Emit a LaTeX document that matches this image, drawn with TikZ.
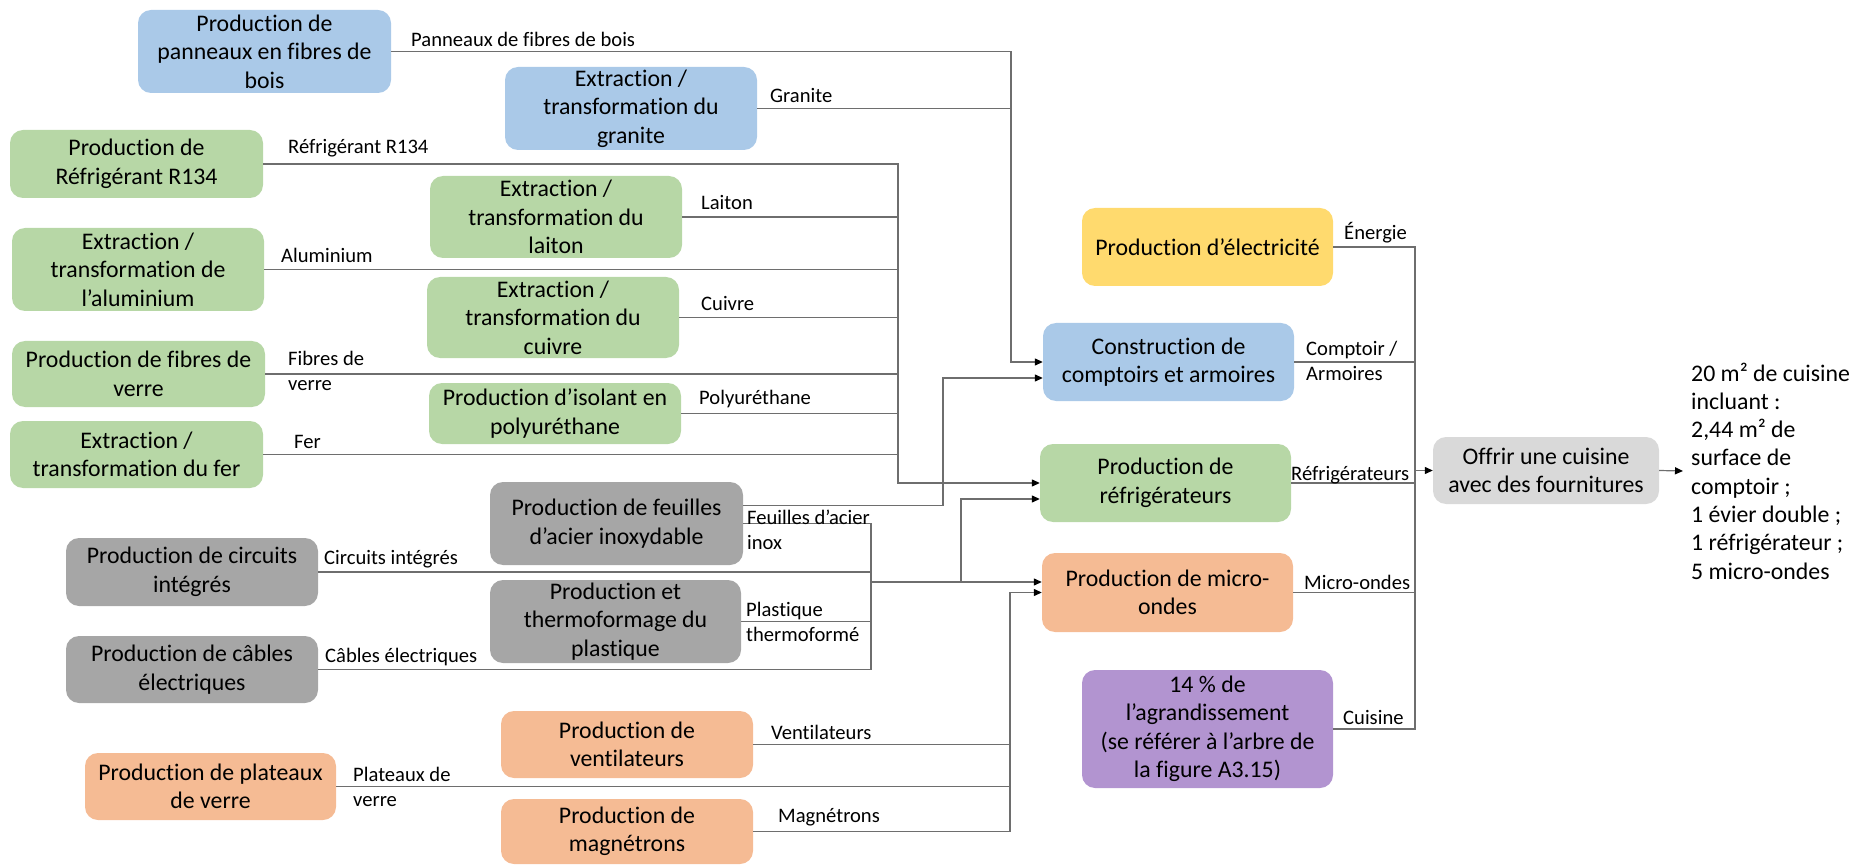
\documentclass[tikz,border=0pt]{standalone}
\usepackage{fontspec}
\setmainfont{Carlito}[Ligatures={NoCommon}]
\usetikzlibrary{arrows.meta}

\definecolor{cblue}{RGB}{170,201,232}
\definecolor{cgreen}{RGB}{183,215,166}
\definecolor{cgrey}{RGB}{166,166,166}
\definecolor{corange}{RGB}{245,187,148}
\definecolor{cyellow}{RGB}{255,218,110}
\definecolor{cpurple}{RGB}{178,148,208}
\definecolor{clight}{RGB}{217,217,217}
\definecolor{wiregray}{RGB}{110,110,110}

% Process box given by its edges: name, x-left, x-right, y-top, y-bottom, fill, text
\newcommand{\flowbox}[7]{%
  \node[procbox, fill=#6, minimum width={(#3-#2)*1pt}, minimum height={(#5-#4)*1pt}]
    (#1) at ({(#2+#3)/2},{(#4+#5)/2}) {#7};}

\begin{document}
\begin{tikzpicture}[x=1pt, y=-1pt,
  procbox/.style={rounded corners=13pt, draw=none, align=center, inner sep=0pt,
    font=\fontsize{23.8}{28.5}\selectfont},
  lbl/.style={anchor=west, inner sep=0pt, align=left,
    font=\fontsize{20.6}{25}\selectfont},
  wire/.style={draw=wiregray, line width=1.2pt},
  arr/.style={wire, -{Triangle[length=8pt,width=7pt]}, arrows={[color=black]}}
]
\useasboundingbox (0,0) rectangle (1857,866);

% ---- supply boxes ----
\flowbox{pan}{138}{391}{10}{93}{cblue}{Production de\\panneaux en fibres de\\bois}
\flowbox{gra}{505}{757}{67}{150}{cblue}{Extraction /\\transformation du\\granite}
\flowbox{ref}{10}{263}{130}{198}{cgreen}{Production de\\Réfrigérant R134}
\flowbox{lai}{430}{682}{176}{258}{cgreen}{Extraction /\\transformation du\\laiton}
\flowbox{alu}{12}{264}{228}{311}{cgreen}{Extraction /\\transformation de\\l’aluminium}
\flowbox{cui}{427}{679}{277}{358}{cgreen}{Extraction /\\transformation du\\cuivre}
\flowbox{fib}{12}{265}{341}{407}{cgreen}{Production de fibres de\\verre}
\flowbox{pol}{429}{681}{383}{444}{cgreen}{Production d’isolant en\\polyuréthane}
\flowbox{fer}{10}{263}{421}{488}{cgreen}{Extraction /\\transformation du fer}
\flowbox{aci}{490}{743}{482}{565}{cgrey}{Production de feuilles\\d’acier inoxydable}
\flowbox{cir}{66}{318}{538}{606}{cgrey}{Production de circuits\\intégrés}
\flowbox{pla}{490}{741}{580}{663}{cgrey}{Production et\\thermoformage du\\plastique}
\flowbox{cab}{66}{318}{636}{703}{cgrey}{Production de câbles\\électriques}
\flowbox{ven}{501}{753}{711}{778}{corange}{Production de\\ventilateurs}
\flowbox{plt}{85}{336}{753}{820}{corange}{Production de plateaux\\de verre}
\flowbox{mag}{501}{753}{799}{864}{corange}{Production de\\magnétrons}

% ---- assembly boxes ----
\flowbox{ele}{1082}{1333}{208}{286}{cyellow}{Production d’électricité}
\flowbox{con}{1043}{1294}{323}{401}{cblue}{Construction de\\comptoirs et armoires}
\flowbox{frg}{1040}{1291}{444}{522}{cgreen}{Production de\\réfrigérateurs}
\flowbox{mic}{1042}{1293}{553}{632}{corange}{Production de micro-\\ondes}
\flowbox{agr}{1082}{1333}{670}{788}{cpurple}{14 \% de\\l’agrandissement\\(se référer à l’arbre de\\la figure A3.15)}
\flowbox{off}{1433}{1659}{437}{504}{clight}{Offrir une cuisine\\avec des fournitures}

% ---- result text ----
\node[anchor=west, inner sep=0pt, align=left, font=\fontsize{23.8}{28.3}\selectfont]
  (res) at (1691,471) {20 m² de cuisine\\incluant :\\2,44 m² de\\surface de\\comptoir ;\\1 évier double ;\\1 réfrigérateur ;\\5 micro-ondes};

% ---- bus positions ----
\coordinate (gb) at (898,0);   % green materials
\coordinate (bb) at (1011,0);  % wood and granite
\coordinate (sb) at (943,0);   % steel sheets to counters
\coordinate (kb) at (871,0);   % grey components
\coordinate (fb) at (961,0);   % grey components to fridges
\coordinate (ob) at (1010,0);  % microwave parts
\coordinate (rb) at (1415,0);  % final assembly

\coordinate (conin2) at ([yshift=-16pt]con.west);
\coordinate (frgin2) at ([yshift=-16pt]frg.west);
\coordinate (micin1) at ([yshift=10.5pt]mic.west);
\coordinate (aciout2) at ([yshift=18pt]aci.east);

% ---- connectors ----
\draw[arr] (pan.east) -- (bb |- pan.east) -- (bb |- con.west) -- (con.west);
\draw[wire] (gra.east) -- (bb |- gra.east);

\draw[arr] (ref.east) -- (gb |- ref.east) -- (gb |- frg.west) -- (frg.west);
\foreach \n in {lai,alu,cui,fib,pol,fer}
  \draw[wire] (\n.east) -- (gb |- \n.east);

\draw[arr] (aciout2) -| (sb |- conin2) -- (conin2);

\draw[wire] (aci.east) -- (kb |- aci.east) -- (kb |- cab.east) -- (cab.east);
\draw[wire] (cir.east) -- (kb |- cir.east);
\draw[wire] (pla.east) -- (kb |- pla.east);
\draw[arr] (kb |- micin1) -- (micin1);
\draw[arr] (fb |- micin1) -- (fb |- frgin2) -- (frgin2);

\draw[arr] (mag.east) -- (ob |- mag.east) -- (ob |- mic.west) -- (mic.west);
\draw[wire] (ven.east) -- (ob |- ven.east);
\draw[wire] (plt.east) -- (ob |- plt.east);

\draw[wire] (ele.east) -- (rb |- ele.east) -- (rb |- agr.east) -- (agr.east);
\foreach \n in {con,frg,mic}
  \draw[wire] (\n.east) -- (rb |- \n.east);
\draw[arr] (rb |- off.west) -- (off.west);
\draw[arr] (off.east) -- ([xshift=-8pt]res.west);

% ---- flow labels ----
\node[lbl] (l1) at (411,39) {Panneaux de fibres de bois};
\node[lbl] (l2) at (770,95) {Granite};
\node[lbl] (l3) at (288,148) {Réfrigérant R134};
\node[lbl] (l4) at (701,202) {Laiton};
\node[lbl] (l5) at (281,255) {Aluminium};
\node[lbl] (l6) at (701,303) {Cuivre};
\node[lbl] (l7) at (288,370.5) {Fibres de\\verre};
\node[lbl] (l8) at (699,399) {Polyuréthane};
\node[lbl] (l9) at (294,442) {Fer};
\node[lbl] (l10) at (747,529.5) {Feuilles d’acier\\inox};
\node[lbl] (l11) at (324,559) {Circuits intégrés};
\node[lbl] (l12) at (746,621.5) {Plastique\\thermoformé};
\node[lbl] (l13) at (325,657) {Câbles électriques};
\node[lbl] (l14) at (771,732) {Ventilateurs};
\node[lbl] (l15) at (353,786.5) {Plateaux de\\verre};
\node[lbl] (l16) at (778,817) {Magnétrons};
\node[lbl] (l17) at (1344,233) {Énergie};
\node[lbl] (l18) at (1306,360.5) {Comptoir /\\Armoires};
\node[lbl] (l19) at (1291,475) {Réfrigérateurs};
\node[lbl] (l20) at (1304,582) {Micro-ondes};
\node[lbl] (l21) at (1343,717) {Cuisine};
\end{tikzpicture}
\end{document}
